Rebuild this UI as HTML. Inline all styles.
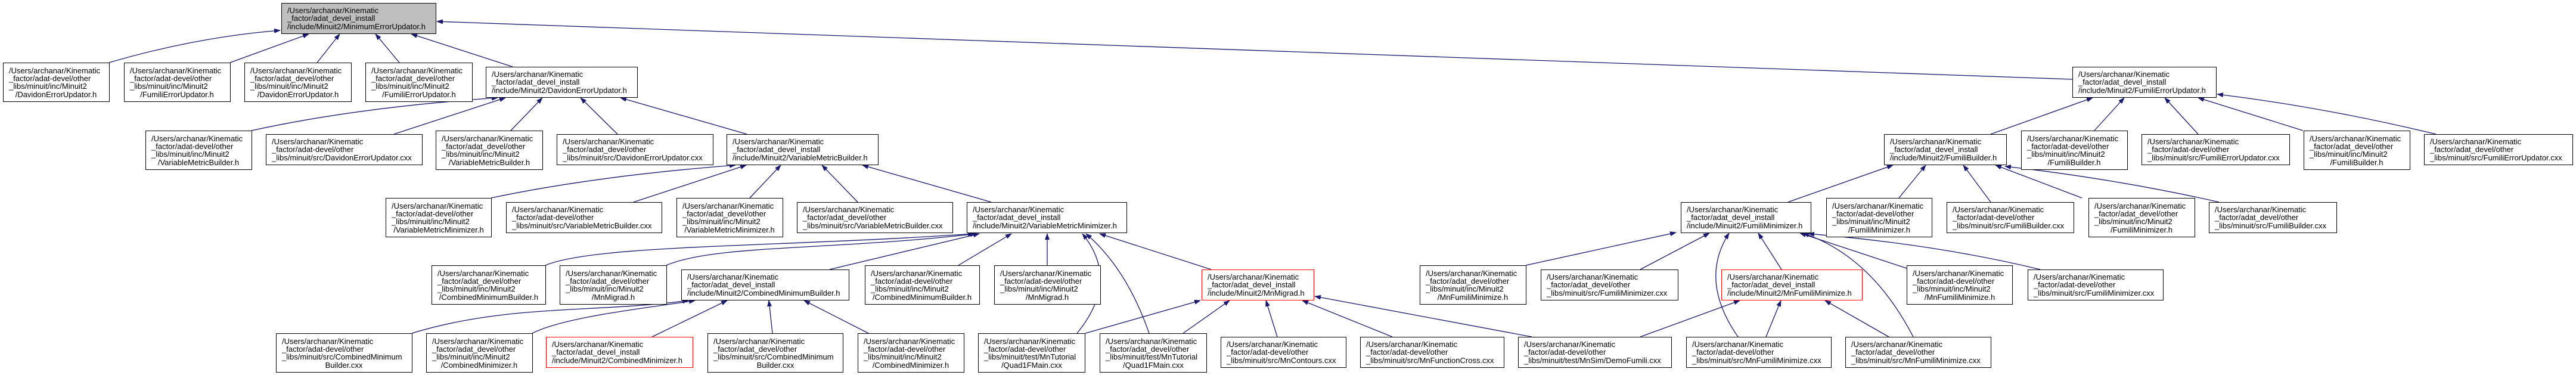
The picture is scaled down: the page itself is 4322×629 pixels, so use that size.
<!DOCTYPE html>
<html><head><meta charset="utf-8"><style>
html,body{margin:0;padding:0;background:#fff;}
svg{display:block;}
text{font-family:"Liberation Sans",Arial,sans-serif;font-size:13px;fill:#000;}
.e{fill:none;stroke:#191970;stroke-width:1.3;marker-end:url(#a);}
.n{fill:#fff;stroke:#000;stroke-width:1;}
.r{fill:#fff;stroke:#f00;stroke-width:1;}
.g{fill:#bfbfbf;stroke:#000;stroke-width:1;}
.m{text-anchor:middle;}
</style></head><body>
<svg width="4322" height="629" viewBox="0 0 4322 629" xmlns="http://www.w3.org/2000/svg">
<defs><marker id="a" markerWidth="11" markerHeight="8" refX="10" refY="4" orient="auto" markerUnits="userSpaceOnUse"><path d="M0,0 L11,4 L0,8 z" fill="#191970"/></marker></defs>

<!-- edges -->
<path class="e" d="M183,105 Q330,62 470,51"/>
<path class="e" d="M386,105 L518,57"/>
<path class="e" d="M532,105 L570,57"/>
<path class="e" d="M670,105 L630,57"/>
<path class="e" d="M860,112 L690,57"/>
<path class="e" d="M3477,133 L733,36"/>
<path class="e" d="M422,219 Q600,180 835,164"/>
<path class="e" d="M661,225 L848,164"/>
<path class="e" d="M857,219 L910,164"/>
<path class="e" d="M1036,225 L974,164"/>
<path class="e" d="M1253,225 L1041,164"/>
<path class="e" d="M3340,225 L3511,164"/>
<path class="e" d="M3514,219 L3564,164"/>
<path class="e" d="M3688,225 L3632,164"/>
<path class="e" d="M3864,219 L3688,164"/>
<path class="e" d="M4087,225 Q3900,180 3720,158"/>
<path class="e" d="M824,332 Q1000,295 1234,277"/>
<path class="e" d="M1063,339 L1252,277"/>
<path class="e" d="M1258,332 L1310,277"/>
<path class="e" d="M1439,339 L1379,277"/>
<path class="e" d="M1663,339 L1447,277"/>
<path class="e" d="M3000,339 L3176,277"/>
<path class="e" d="M3186,332 L3231,277"/>
<path class="e" d="M3340,339 L3294,277"/>
<path class="e" d="M3493,332 L3348,277"/>
<path class="e" d="M3723,339 Q3550,300 3364,279"/>
<path class="e" d="M915,445 C1000,410 1300,415 1634,392"/>
<path class="e" d="M1118,445 C1200,410 1400,420 1638,392"/>
<path class="e" d="M1392,452 L1643,392"/>
<path class="e" d="M1608,445 L1697,392"/>
<path class="e" d="M1757,445 L1757,392"/>
<path class="e" d="M1807,559 Q1880,470 1816,392"/>
<path class="e" d="M1928,559 Q1890,450 1822,392"/>
<path class="e" d="M2032,452 L1845,392"/>
<path class="e" d="M691,559 C850,510 1000,525 1155,504"/>
<path class="e" d="M893,559 C950,530 1100,515 1166,504"/>
<path class="e" d="M1094,565 L1220,504"/>
<path class="e" d="M1296,559 L1290,504"/>
<path class="e" d="M1457,559 L1349,504"/>
<path class="e" d="M1821,559 L2014,504"/>
<path class="e" d="M1985,559 L2063,504"/>
<path class="e" d="M2143,565 L2124,504"/>
<path class="e" d="M2336,565 L2185,504"/>
<path class="e" d="M2570,565 L2206,497"/>
<path class="e" d="M2560,445 L2812,390"/>
<path class="e" d="M2752,452 L2868,391"/>
<path class="e" d="M2916,565 Q2850,470 2901,391"/>
<path class="e" d="M3210,565 Q3140,430 3025,391"/>
<path class="e" d="M2989,452 L2950,391"/>
<path class="e" d="M3199,450 L3020,391"/>
<path class="e" d="M3423,452 Q3250,410 3034,392"/>
<path class="e" d="M2752,565 L2919,504"/>
<path class="e" d="M2963,565 L2988,504"/>
<path class="e" d="M3169,565 L3062,504"/>

<!-- root -->
<rect class="g" x="472.5" y="5.5" width="259" height="51"/>
<text x="482" y="22">/Users/archanar/Kinematic</text><text x="482" y="35">_factor/adat_devel_install</text><text x="482" y="49">/include/Minuit2/MinimumErrorUpdator.h</text>

<!-- level 1 -->
<rect class="n" x="5.5" y="105.5" width="178" height="65"/>
<text x="15" y="123">/Users/archanar/Kinematic</text><text x="15" y="136">_factor/adat-devel/other</text><text x="15" y="149">_libs/minuit/inc/Minuit2</text><text class="m" x="94" y="163">/DavidonErrorUpdator.h</text>
<rect class="n" x="208.5" y="105.5" width="178" height="65"/>
<text x="218" y="123">/Users/archanar/Kinematic</text><text x="218" y="136">_factor/adat-devel/other</text><text x="218" y="149">_libs/minuit/inc/Minuit2</text><text class="m" x="297" y="163">/FumiliErrorUpdator.h</text>
<rect class="n" x="410.5" y="105.5" width="179" height="65"/>
<text x="420" y="123">/Users/archanar/Kinematic</text><text x="420" y="136">_factor/adat_devel/other</text><text x="420" y="149">_libs/minuit/inc/Minuit2</text><text class="m" x="500" y="163">/DavidonErrorUpdator.h</text>
<rect class="n" x="613.5" y="105.5" width="179" height="65"/>
<text x="623" y="123">/Users/archanar/Kinematic</text><text x="623" y="136">_factor/adat_devel/other</text><text x="623" y="149">_libs/minuit/inc/Minuit2</text><text class="m" x="703" y="163">/FumiliErrorUpdator.h</text>
<rect class="n" x="815.5" y="112.5" width="254" height="51"/>
<text x="825" y="129">/Users/archanar/Kinematic</text><text x="825" y="142">_factor/adat_devel_install</text><text x="825" y="156">/include/Minuit2/DavidonErrorUpdator.h</text>
<rect class="n" x="3477.5" y="112.5" width="241" height="51"/>
<text x="3487" y="129">/Users/archanar/Kinematic</text><text x="3487" y="142">_factor/adat_devel_install</text><text x="3487" y="156">/include/Minuit2/FumiliErrorUpdator.h</text>

<!-- level 2 -->
<rect class="n" x="244.5" y="219.5" width="178" height="65"/>
<text x="254" y="237">/Users/archanar/Kinematic</text><text x="254" y="250">_factor/adat-devel/other</text><text x="254" y="263">_libs/minuit/inc/Minuit2</text><text class="m" x="333" y="277">/VariableMetricBuilder.h</text>
<rect class="n" x="446.5" y="225.5" width="262" height="51"/>
<text x="456" y="242">/Users/archanar/Kinematic</text><text x="456" y="255">_factor/adat-devel/other</text><text x="456" y="269">_libs/minuit/src/DavidonErrorUpdator.cxx</text>
<rect class="n" x="731.5" y="219.5" width="179" height="65"/>
<text x="741" y="237">/Users/archanar/Kinematic</text><text x="741" y="250">_factor/adat_devel/other</text><text x="741" y="263">_libs/minuit/inc/Minuit2</text><text class="m" x="821" y="277">/VariableMetricBuilder.h</text>
<rect class="n" x="934.5" y="225.5" width="262" height="51"/>
<text x="944" y="242">/Users/archanar/Kinematic</text><text x="944" y="255">_factor/adat_devel/other</text><text x="944" y="269">_libs/minuit/src/DavidonErrorUpdator.cxx</text>
<rect class="n" x="1219.5" y="225.5" width="254" height="51"/>
<text x="1229" y="242">/Users/archanar/Kinematic</text><text x="1229" y="255">_factor/adat_devel_install</text><text x="1229" y="269">/include/Minuit2/VariableMetricBuilder.h</text>
<rect class="n" x="3161.5" y="225.5" width="205" height="51"/>
<text x="3171" y="242">/Users/archanar/Kinematic</text><text x="3171" y="255">_factor/adat_devel_install</text><text x="3171" y="269">/include/Minuit2/FumiliBuilder.h</text>
<rect class="n" x="3391.5" y="219.5" width="178" height="65"/>
<text x="3401" y="237">/Users/archanar/Kinematic</text><text x="3401" y="250">_factor/adat-devel/other</text><text x="3401" y="263">_libs/minuit/inc/Minuit2</text><text class="m" x="3480" y="277">/FumiliBuilder.h</text>
<rect class="n" x="3593.5" y="225.5" width="248" height="51"/>
<text x="3603" y="242">/Users/archanar/Kinematic</text><text x="3603" y="255">_factor/adat-devel/other</text><text x="3603" y="269">_libs/minuit/src/FumiliErrorUpdator.cxx</text>
<rect class="n" x="3865.5" y="219.5" width="178" height="65"/>
<text x="3875" y="237">/Users/archanar/Kinematic</text><text x="3875" y="250">_factor/adat_devel/other</text><text x="3875" y="263">_libs/minuit/inc/Minuit2</text><text class="m" x="3954" y="277">/FumiliBuilder.h</text>
<rect class="n" x="4067.5" y="225.5" width="249" height="51"/>
<text x="4077" y="242">/Users/archanar/Kinematic</text><text x="4077" y="255">_factor/adat_devel/other</text><text x="4077" y="269">_libs/minuit/src/FumiliErrorUpdator.cxx</text>

<!-- level 3 -->
<rect class="n" x="647.5" y="332.5" width="177" height="65"/>
<text x="657" y="350">/Users/archanar/Kinematic</text><text x="657" y="363">_factor/adat-devel/other</text><text x="657" y="376">_libs/minuit/inc/Minuit2</text><text class="m" x="736" y="390">/VariableMetricMinimizer.h</text>
<rect class="n" x="849.5" y="339.5" width="261" height="51"/>
<text x="859" y="356">/Users/archanar/Kinematic</text><text x="859" y="369">_factor/adat-devel/other</text><text x="859" y="383">_libs/minuit/src/VariableMetricBuilder.cxx</text>
<rect class="n" x="1135.5" y="332.5" width="178" height="65"/>
<text x="1145" y="350">/Users/archanar/Kinematic</text><text x="1145" y="363">_factor/adat_devel/other</text><text x="1145" y="376">_libs/minuit/inc/Minuit2</text><text class="m" x="1224" y="390">/VariableMetricMinimizer.h</text>
<rect class="n" x="1337.5" y="339.5" width="261" height="51"/>
<text x="1347" y="356">/Users/archanar/Kinematic</text><text x="1347" y="369">_factor/adat_devel/other</text><text x="1347" y="383">_libs/minuit/src/VariableMetricBuilder.cxx</text>
<rect class="n" x="1622.5" y="339.5" width="268" height="51"/>
<text x="1632" y="356">/Users/archanar/Kinematic</text><text x="1632" y="369">_factor/adat_devel_install</text><text x="1632" y="383">/include/Minuit2/VariableMetricMinimizer.h</text>
<rect class="n" x="2820.5" y="339.5" width="218" height="51"/>
<text x="2830" y="356">/Users/archanar/Kinematic</text><text x="2830" y="369">_factor/adat_devel_install</text><text x="2830" y="383">/include/Minuit2/FumiliMinimizer.h</text>
<rect class="n" x="3064.5" y="332.5" width="177" height="65"/>
<text x="3074" y="350">/Users/archanar/Kinematic</text><text x="3074" y="363">_factor/adat-devel/other</text><text x="3074" y="376">_libs/minuit/inc/Minuit2</text><text class="m" x="3153" y="390">/FumiliMinimizer.h</text>
<rect class="n" x="3266.5" y="339.5" width="213" height="51"/>
<text x="3276" y="356">/Users/archanar/Kinematic</text><text x="3276" y="369">_factor/adat-devel/other</text><text x="3276" y="383">_libs/minuit/src/FumiliBuilder.cxx</text>
<rect class="n" x="3504.5" y="332.5" width="178" height="65"/>
<text x="3514" y="350">/Users/archanar/Kinematic</text><text x="3514" y="363">_factor/adat_devel/other</text><text x="3514" y="376">_libs/minuit/inc/Minuit2</text><text class="m" x="3593" y="390">/FumiliMinimizer.h</text>
<rect class="n" x="3706.5" y="339.5" width="214" height="51"/>
<text x="3716" y="356">/Users/archanar/Kinematic</text><text x="3716" y="369">_factor/adat_devel/other</text><text x="3716" y="383">_libs/minuit/src/FumiliBuilder.cxx</text>

<!-- level 4 -->
<rect class="n" x="724.5" y="445.5" width="191" height="65"/>
<text x="734" y="463">/Users/archanar/Kinematic</text><text x="734" y="476">_factor/adat_devel/other</text><text x="734" y="489">_libs/minuit/inc/Minuit2</text><text class="m" x="820" y="503">/CombinedMinimumBuilder.h</text>
<rect class="n" x="939.5" y="445.5" width="179" height="65"/>
<text x="949" y="463">/Users/archanar/Kinematic</text><text x="949" y="476">_factor/adat_devel/other</text><text x="949" y="489">_libs/minuit/inc/Minuit2</text><text class="m" x="1029" y="503">/MnMigrad.h</text>
<rect class="n" x="1143.5" y="452.5" width="281" height="51"/>
<text x="1153" y="469">/Users/archanar/Kinematic</text><text x="1153" y="482">_factor/adat_devel_install</text><text x="1153" y="496">/include/Minuit2/CombinedMinimumBuilder.h</text>
<rect class="n" x="1451.5" y="445.5" width="192" height="65"/>
<text x="1461" y="463">/Users/archanar/Kinematic</text><text x="1461" y="476">_factor/adat-devel/other</text><text x="1461" y="489">_libs/minuit/inc/Minuit2</text><text class="m" x="1547" y="503">/CombinedMinimumBuilder.h</text>
<rect class="n" x="1668.5" y="445.5" width="178" height="65"/>
<text x="1678" y="463">/Users/archanar/Kinematic</text><text x="1678" y="476">_factor/adat-devel/other</text><text x="1678" y="489">_libs/minuit/inc/Minuit2</text><text class="m" x="1757" y="503">/MnMigrad.h</text>
<rect class="r" x="2016.5" y="452.5" width="188" height="51"/>
<text x="2026" y="469">/Users/archanar/Kinematic</text><text x="2026" y="482">_factor/adat_devel_install</text><text x="2026" y="496">/include/Minuit2/MnMigrad.h</text>
<rect class="n" x="2382.5" y="445.5" width="178" height="65"/>
<text x="2392" y="463">/Users/archanar/Kinematic</text><text x="2392" y="476">_factor/adat_devel/other</text><text x="2392" y="489">_libs/minuit/inc/Minuit2</text><text class="m" x="2471" y="503">/MnFumiliMinimize.h</text>
<rect class="n" x="2585.5" y="452.5" width="230" height="51"/>
<text x="2595" y="469">/Users/archanar/Kinematic</text><text x="2595" y="482">_factor/adat_devel/other</text><text x="2595" y="496">_libs/minuit/src/FumiliMinimizer.cxx</text>
<rect class="r" x="2888.5" y="452.5" width="236" height="51"/>
<text x="2898" y="469">/Users/archanar/Kinematic</text><text x="2898" y="482">_factor/adat_devel_install</text><text x="2898" y="496">/include/Minuit2/MnFumiliMinimize.h</text>
<rect class="n" x="3199.5" y="445.5" width="177" height="65"/>
<text x="3209" y="463">/Users/archanar/Kinematic</text><text x="3209" y="476">_factor/adat-devel/other</text><text x="3209" y="489">_libs/minuit/inc/Minuit2</text><text class="m" x="3288" y="503">/MnFumiliMinimize.h</text>
<rect class="n" x="3402.5" y="452.5" width="227" height="51"/>
<text x="3412" y="469">/Users/archanar/Kinematic</text><text x="3412" y="482">_factor/adat-devel/other</text><text x="3412" y="496">_libs/minuit/src/FumiliMinimizer.cxx</text>

<!-- level 5 -->
<rect class="n" x="463.5" y="559.5" width="228" height="65"/>
<text x="473" y="577">/Users/archanar/Kinematic</text><text x="473" y="590">_factor/adat-devel/other</text><text x="473" y="603">_libs/minuit/src/CombinedMinimum</text><text class="m" x="577" y="617">Builder.cxx</text>
<rect class="n" x="715.5" y="559.5" width="178" height="65"/>
<text x="725" y="577">/Users/archanar/Kinematic</text><text x="725" y="590">_factor/adat_devel/other</text><text x="725" y="603">_libs/minuit/inc/Minuit2</text><text class="m" x="804" y="617">/CombinedMinimizer.h</text>
<rect class="r" x="916.5" y="565.5" width="246" height="51"/>
<text x="926" y="582">/Users/archanar/Kinematic</text><text x="926" y="595">_factor/adat_devel_install</text><text x="926" y="609">/include/Minuit2/CombinedMinimizer.h</text>
<rect class="n" x="1187.5" y="559.5" width="227" height="65"/>
<text x="1197" y="577">/Users/archanar/Kinematic</text><text x="1197" y="590">_factor/adat_devel/other</text><text x="1197" y="603">_libs/minuit/src/CombinedMinimum</text><text class="m" x="1301" y="617">Builder.cxx</text>
<rect class="n" x="1439.5" y="559.5" width="178" height="65"/>
<text x="1449" y="577">/Users/archanar/Kinematic</text><text x="1449" y="590">_factor/adat-devel/other</text><text x="1449" y="603">_libs/minuit/inc/Minuit2</text><text class="m" x="1528" y="617">/CombinedMinimizer.h</text>
<rect class="n" x="1641.5" y="559.5" width="179" height="65"/>
<text x="1651" y="577">/Users/archanar/Kinematic</text><text x="1651" y="590">_factor/adat-devel/other</text><text x="1651" y="603">_libs/minuit/test/MnTutorial</text><text class="m" x="1731" y="617">/Quad1FMain.cxx</text>
<rect class="n" x="1845.5" y="559.5" width="179" height="65"/>
<text x="1855" y="577">/Users/archanar/Kinematic</text><text x="1855" y="590">_factor/adat_devel/other</text><text x="1855" y="603">_libs/minuit/test/MnTutorial</text><text class="m" x="1935" y="617">/Quad1FMain.cxx</text>
<rect class="n" x="2048.5" y="565.5" width="210" height="51"/>
<text x="2058" y="582">/Users/archanar/Kinematic</text><text x="2058" y="595">_factor/adat-devel/other</text><text x="2058" y="609">_libs/minuit/src/MnContours.cxx</text>
<rect class="n" x="2282.5" y="565.5" width="241" height="51"/>
<text x="2292" y="582">/Users/archanar/Kinematic</text><text x="2292" y="595">_factor/adat-devel/other</text><text x="2292" y="609">_libs/minuit/src/MnFunctionCross.cxx</text>
<rect class="n" x="2547.5" y="565.5" width="257" height="51"/>
<text x="2557" y="582">/Users/archanar/Kinematic</text><text x="2557" y="595">_factor/adat-devel/other</text><text x="2557" y="609">_libs/minuit/test/MnSim/DemoFumili.cxx</text>
<rect class="n" x="2829.5" y="565.5" width="243" height="51"/>
<text x="2839" y="582">/Users/archanar/Kinematic</text><text x="2839" y="595">_factor/adat-devel/other</text><text x="2839" y="609">_libs/minuit/src/MnFumiliMinimize.cxx</text>
<rect class="n" x="3096.5" y="565.5" width="244" height="51"/>
<text x="3106" y="582">/Users/archanar/Kinematic</text><text x="3106" y="595">_factor/adat_devel/other</text><text x="3106" y="609">_libs/minuit/src/MnFumiliMinimize.cxx</text>
</svg>
</body></html>
